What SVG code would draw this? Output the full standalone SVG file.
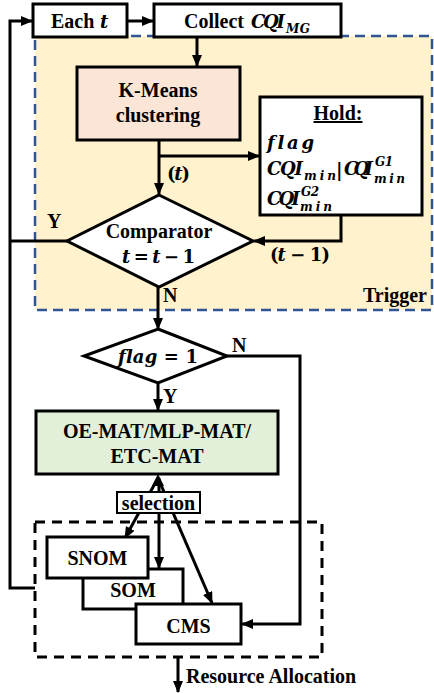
<svg xmlns="http://www.w3.org/2000/svg" width="434" height="693" viewBox="0 0 434 693">
<defs>
<marker id="ah" markerUnits="userSpaceOnUse" markerWidth="12" markerHeight="10" refX="11" refY="5" orient="auto">
<path d="M0,0 L12,5 L0,10 z" fill="#000"/>
</marker>
</defs>
<style>
.box{fill:#fff;stroke:#000;stroke-width:3}
.t{font-family:"Liberation Serif","Times New Roman",serif;font-weight:bold;font-size:20px;fill:#000}
.mm{font-family:"DejaVu Serif",serif;font-weight:bold;font-size:18px;fill:#000;font-variant-ligatures:none;font-feature-settings:"liga" 0}
.m{font-style:italic}
.s{font-size:12px}
.ln{fill:none;stroke:#000;stroke-width:3}
.ar{marker-end:url(#ah)}
</style>
<rect id="trigger-region" x="35" y="36" width="397" height="274" fill="#FFF2CC" stroke="#2F5597" stroke-width="2.5" stroke-dasharray="10,6"/>
<rect id="module-region" x="35" y="522" width="287" height="135" fill="none" stroke="#000" stroke-width="3" stroke-dasharray="10,7"/>
<g id="connectors">
<path class="ln ar" d="M127,21 H153"/>
<path class="ln ar" d="M35,588 H10 V21 H32"/>
<path class="ln ar" d="M197,37 V66"/>
<path class="ln ar" d="M159,140 V194"/>
<path class="ln ar" d="M159,156 H259"/>
<path class="ln" d="M67,241 H10"/>
<path class="ln ar" d="M341,215 V241 H254"/>
<path class="ln ar" d="M158,287 V329"/>
<path class="ln ar" d="M227,356 H300 V624 H242"/>
<path class="ln ar" d="M158,383 V410"/>
<path class="ln ar" d="M158,478 L125,538"/>
<path class="ln ar" d="M159,478 V568"/>
<path class="ln ar" d="M158,478 L212,603"/>
<polygon points="158,474 152,486 164,486" fill="#000"/>
<path class="ln ar" d="M178,657 V692"/>
</g>
<g id="each-t">
<rect class="box" x="33" y="4" width="94" height="33"/>
<text class="t" x="51" y="28">Each</text>
<text class="mm m" x="100" y="28">t</text>
</g>
<g id="collect">
<rect class="box" x="154" y="4" width="187" height="33"/>
<text class="t" x="184" y="28">Collect</text>
<text class="mm m" x="251" y="28" textLength="34">CQI</text>
<text class="mm m s" x="286" y="33" textLength="24">MG</text>
</g>
<g id="kmeans">
<rect x="77" y="67" width="163" height="73" fill="#FBE5D6" stroke="#000" stroke-width="3"/>
<text class="t" x="158" y="97" text-anchor="middle">K-Means</text>
<text class="t" x="158" y="122" text-anchor="middle">clustering</text>
</g>
<g id="hold">
<rect class="box" x="260" y="97" width="162" height="118"/>
<text class="t" x="338" y="120" text-anchor="middle" text-decoration="underline">Hold:</text>
<text class="mm m" x="267" y="149" textLength="47">flag</text>
<text class="mm m" x="267" y="175" textLength="36">CQI</text>
<text class="mm m s" x="304" y="180" textLength="32">min</text>
<text class="mm" x="336" y="176" font-size="16">|</text>
<text class="mm m" x="344" y="175" textLength="29">CQI</text>
<text class="mm m s" x="375" y="166" textLength="18">G1</text>
<text class="mm m s" x="374" y="183" textLength="31">min</text>
<text class="mm m" x="267" y="205" textLength="33">CQI</text>
<text class="mm m s" x="301" y="196" textLength="18">G2</text>
<text class="mm m s" x="300" y="211" textLength="32">min</text>
</g>
<g id="comparator">
<polygon points="159,195 253,241 159,287 67,241" fill="#fff" stroke="#000" stroke-width="3"/>
<text class="t" x="159" y="238" text-anchor="middle">Comparator</text>
<text class="mm" x="122" y="263" textLength="73"><tspan class="m">t</tspan> = <tspan class="m">t</tspan> − 1</text>
</g>
<g id="labels">
<text class="mm" x="167" y="180" textLength="23">(<tspan class="m">t</tspan>)</text>
<text class="mm" x="270" y="261" textLength="60">(<tspan class="m">t</tspan> − 1)</text>
<text class="t" x="47" y="228">Y</text>
<text class="t" x="163" y="302">N</text>
<text class="t" x="427" y="302" text-anchor="end">Trigger</text>
<text class="t" x="232" y="352">N</text>
<text class="t" x="163" y="403">Y</text>
<text class="t" x="186" y="683">Resource Allocation</text>
</g>
<g id="flag">
<polygon points="158,329 227,356 158,383 84,356" fill="#fff" stroke="#000" stroke-width="3"/>
<text class="mm" x="118" y="363" textLength="80"><tspan class="m">flag</tspan> = 1</text>
</g>
<g id="mat">
<rect x="36" y="411" width="242" height="63" fill="#E2F0D9" stroke="#000" stroke-width="3"/>
<text class="t" x="157" y="438" text-anchor="middle">OE-MAT/MLP-MAT/</text>
<text class="t" x="157" y="463" text-anchor="middle">ETC-MAT</text>
</g>
<g id="selection">
<rect x="117" y="492" width="83" height="21" fill="#fff" stroke="#000" stroke-width="2"/>
<text class="t" x="158.5" y="510" text-anchor="middle">selection</text>
</g>
<g id="som">
<rect class="box" x="83" y="569" width="100" height="40"/>
<text class="t" x="133" y="597" text-anchor="middle">SOM</text>
</g>
<g id="snom">
<rect class="box" x="47" y="537" width="101" height="41"/>
<text class="t" x="97.5" y="565" text-anchor="middle">SNOM</text>
</g>
<g id="cms">
<rect class="box" x="136" y="604" width="105" height="40"/>
<text class="t" x="188.5" y="633" text-anchor="middle">CMS</text>
</g>
</svg>
